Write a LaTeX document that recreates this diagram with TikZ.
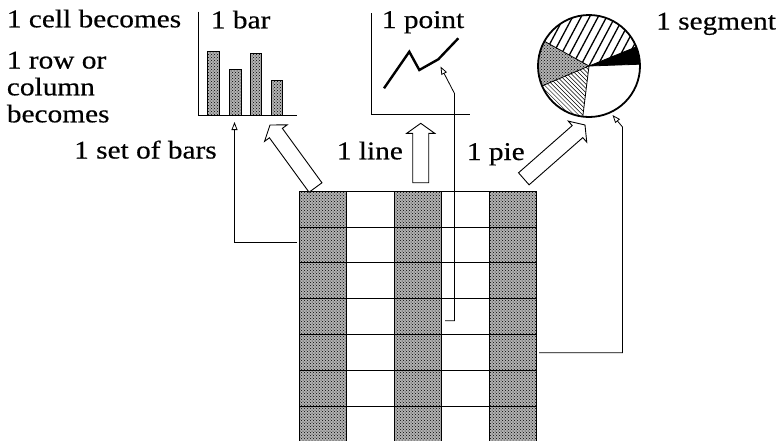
\documentclass[tikz,border=0pt]{standalone}
\usepackage{fontspec}
\setmainfont{Liberation Serif}[FakeStretch=1.15,FakeBold=0.5]
\usetikzlibrary{arrows.meta,calc,patterns}
\tikzset{
  lbl/.style={anchor=base west, inner sep=0pt, font=\fontsize{25.5}{29}\selectfont},
  axisline/.style={line width=0.9pt},
  dotfill/.style={fill=black!30, postaction={pattern=crosshatch dots}},
  gridline/.style={line width=1.1pt},
  conn/.style={line width=0.8pt, -{Triangle[open,length=8pt,width=6pt]}},
  fat/.style={draw, line width=0.9pt, fill=white, line join=miter},
  barbox/.style={draw, line width=0.7pt, dotfill},
  segline/.style={line width=0.8pt},
}
\newcommand\fatarr[2]{%
  \coordinate (fH) at ($(#2)!10pt!(#1)$);
  \draw[fat] ($(#1)!8pt!90:(#2)$) -- ($(fH)!8pt!90:(#2)$) -- ($(fH)!14pt!90:(#2)$)
    -- (#2) -- ($(fH)!14pt!-90:(#2)$) -- ($(fH)!8pt!-90:(#2)$) -- ($(#1)!8pt!-90:(#2)$) -- cycle;}
% hatch lines at visual angle #1, spacing #2, width #3 (local y points down)
\newcommand\hatchlines[3]{%
  \foreach \k in {-16,...,16}
    \draw[line width=#3] ({\k*#2*sin(#1) - 60*cos(#1)}, {\k*#2*cos(#1) + 60*sin(#1)})
      -- ({\k*#2*sin(#1) + 60*cos(#1)}, {\k*#2*cos(#1) - 60*sin(#1)});}
\begin{document}
\begin{tikzpicture}[x=1pt,y=-1pt]
\useasboundingbox (0,0) rectangle (783,440);
\clip (0,0) rectangle (783,440);

% ---------- grid (spreadsheet) ----------
\foreach \c in {0,2,4}
  \path[dotfill] ({299+47.5*\c},191.5) rectangle ({299+47.5*(\c+1)},445);
\foreach \c in {0,...,5}
  \draw[line width=0.9pt] ({299+47.5*\c},191.5) -- ({299+47.5*\c},445);
\foreach \yy in {191.5,227.5,262.5,298.5,334.5,370.5,406.5}
  \draw[gridline] (299,\yy) -- (536.5,\yy);

% ---------- bar chart ----------
\draw[axisline] (198.3,11.7) -- (198.3,115) -- (297.3,115);
\path[barbox] (207.7,51) rectangle (219.3,115);
\path[barbox] (229.3,69.3) rectangle (241,115);
\path[barbox] (250,53.3) rectangle (261.7,115);
\path[barbox] (271,80) rectangle (282.7,115);

% ---------- line chart ----------
\draw[axisline] (371.7,13) -- (371.7,114.5) -- (470,114.5);
\draw[line width=2.4pt] (384,88.3) -- (409.3,51.7) -- (419.3,70) -- (438.3,59.3) -- (458.3,38.3);

% ---------- pie chart (local y points down: visual angle a -> -a) ----------
\begin{scope}[shift={(589,66)}]
  \begin{scope}
    \clip (0,0) -- (-22:51) arc[start angle=-22,end angle=-151,radius=51] -- cycle;
    \hatchlines{62}{7.5}{1.3pt}
  \end{scope}
  \fill[black] (0,0) -- (-2:51) arc[start angle=-2,end angle=-22,radius=51] -- cycle;
  \path[dotfill] (0,0) -- (-151:51) arc[start angle=-151,end angle=-203,radius=51] -- cycle;
  \begin{scope}
    \clip (0,0) -- (-203:51) arc[start angle=-203,end angle=-263,radius=51] -- cycle;
    \hatchlines{-45}{3}{0.5pt}
  \end{scope}
  \draw[segline] (-22:51) -- (0,0) -- (-2:51);
  \draw[segline] (-151:51) -- (0,0) -- (-203:51);
  \draw[segline] (0,0) -- (-263:51);
  \draw[line width=1.8pt] (0,0) circle[radius=51];
\end{scope}

% ---------- texts ----------
\node[lbl] (cell) at (6.7,27.3) {1 cell becomes};
\node[lbl] (row1) at (6.7,68.5) {1 row or};
\node[lbl] (row2) at (6.7,95.3) {column};
\node[lbl] (row3) at (6.7,122.3) {becomes};
\node[lbl] (setbars) at (74,158.5) {1 set of bars};
\node[lbl] (onebar) at (210.7,28.3) {1 bar};
\node[lbl] (onepoint) at (381.7,28) {1 point};
\node[lbl] (oneline) at (336.7,159.3) {1 line};
\node[lbl] (onepie) at (466.7,160) {1 pie};
\node[lbl] (oneseg) at (656,29.5) {1 segment};

% ---------- fat arrows ----------
\coordinate (barT) at (315.5,187.5); \coordinate (barP) at (270,125);
\coordinate (lineT) at (420.7,182.7); \coordinate (lineP) at (420.7,123.3);
\coordinate (pieT) at (523.8,178.8); \coordinate (pieP) at (585,125);
\fatarr{barT}{barP}
\fatarr{lineT}{lineP}
\fatarr{pieT}{pieP}

% ---------- thin connectors ----------
\coordinate (gA) at (297,242.7); \coordinate (barIn) at (234.5,122);
\draw[conn] (gA) -| (barIn);
\coordinate (gB) at (445,320.7); \coordinate (bendB) at (454.5,93.5); \coordinate (ptIn) at (440.5,66.5);
\draw[conn] (gB) -| (bendB) -- (ptIn);
\coordinate (gC) at (539,352.7); \coordinate (bendC) at (622.5,127); \coordinate (segIn) at (612.5,115);
\draw[conn] (gC) -| (bendC) -- (segIn);
\end{tikzpicture}
\end{document}
